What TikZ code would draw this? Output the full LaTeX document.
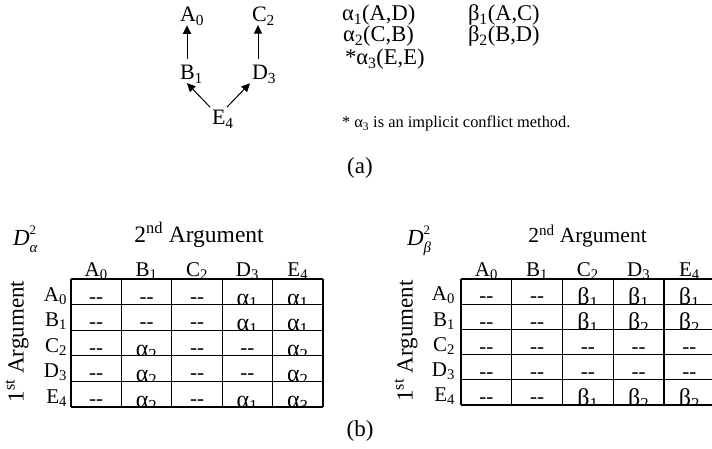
\documentclass[tikz,border=0pt]{standalone}
\usepackage{fontspec}
\setmainfont{Liberation Serif}
\usetikzlibrary{arrows.meta}

\newcommand{\dashpair}{-\kern0pt-}
\newcommand{\Dmat}[1]{\textit{D}\makebox[0pt][l]{\raisebox{10pt}{\fontsize{13}{13}\selectfont 2}}\raisebox{-7pt}{\fontsize{15}{15}\selectfont\textit{#1}}}

\begin{document}
\begin{tikzpicture}[x=1pt,y=-1pt,
  lbl/.style={inner sep=0pt, outer sep=0pt, anchor=base west, font=\fontsize{22}{24}\selectfont},
  meth/.style={lbl, font=\fontsize{22.5}{24}\selectfont},
  cen/.style={inner sep=0pt, outer sep=0pt, anchor=base, font=\fontsize{21}{24}\selectfont},
  rowlbl/.style={inner sep=0pt, outer sep=0pt, anchor=base east, font=\fontsize{21}{24}\selectfont},
  greek/.style={cen, font=\fontsize{24}{24}\selectfont},
  arr/.style={-{Triangle[width=8pt,length=8.5pt]}, line width=1pt},
  gridline/.style={line width=1.1pt}]
\useasboundingbox (0,0) rectangle (712,449);
\clip (0,0) rectangle (712,449);

% (a) precedence graph and method list
\node[lbl] (a0) at (180,22) {A\textsubscript{0}};
\node[lbl] (c2) at (252,22) {C\textsubscript{2}};
\node[lbl] (b1) at (180,80) {B\textsubscript{1}};
\node[lbl] (d3) at (252,80) {D\textsubscript{3}};
\node[lbl] (e4) at (212,125) {E\textsubscript{4}};
\draw[arr] ([shift={(7,-7)}]b1.north west) -- ([shift={(7,0)}]a0.south west);
\draw[arr] ([shift={(6,-7)}]d3.north west) -- ([shift={(6,0)}]c2.south west);
\draw[arr] ([shift={(-2,-3.5)}]e4.north west) -- ([shift={(7,0)}]b1.south west);
\draw[arr] ([shift={(15,-3.5)}]e4.north west) -- ([shift={(-2,0)}]d3.south west);

\node[meth] (m1) at (342,21) {α\textsubscript{1}(A,D)};
\node[meth] (n1) at (468,21) {β\textsubscript{1}(A,C)};
\node[meth] (m2) at (343,42) {α\textsubscript{2}(C,B)};
\node[meth] (n2) at (468,42) {β\textsubscript{2}(B,D)};
\node[meth] (m3) at (345,65) {*α\textsubscript{3}(E,E)};
\node[lbl, font=\fontsize{16.4}{18}\selectfont] (note) at (342,128) {* α\textsubscript{3} is an implicit conflict method.};
\node[cen, font=\fontsize{23}{24}\selectfont] (capa) at (360,174) {(a)};

% (b) left matrix
\node[lbl, font=\fontsize{23}{24}\selectfont] (da) at (13,245) {\Dmat{α}};
\node[cen, font=\fontsize{23.5}{26}\selectfont] (h2a) at (199,243) {2\textsuperscript{nd} Argument};
\node[rotate=90, inner sep=0pt, font=\fontsize{23}{24}\selectfont] (h1a) at (17,341.5) {1\textsuperscript{st} Argument};
\foreach \l [count=\i] in {A,B,C,D,E} {
  \pgfmathtruncatemacro\k{\i-1}
  \node[cen] (ca\i) at (71+50.4*\i-25.2,276) {\l\textsubscript{\k}};
  \node[rowlbl] (ra\i) at (67,279+25.6*\i-3.6) {\l\textsubscript{\k}};
}
\foreach \cells [count=\i] in {{0,0,0,1,1},{0,0,0,1,1},{0,2,0,0,2},{0,2,0,0,2},{0,2,0,1,3}} {
  \foreach \c [count=\j] in \cells {
    \ifnum\c=0\relax
      \node[cen] (la\i\j) at (71+50.4*\j-25.2,279+25.6*\i-1.6) {\dashpair};
    \else
      \begin{scope}
        \clip (71+50.4*\j-50.4,279+25.6*\i-25.6) rectangle ++(50.4,25.6);
        \node[greek] (la\i\j) at (71+50.4*\j-25.2,279+25.6*\i+0.5) {α\textsubscript{\c}};
      \end{scope}
    \fi
  }
}
\foreach \j in {0,...,5} \draw[gridline] (71+50.4*\j,279) -- ++(0,128);
\foreach \i in {0,...,5} \draw[gridline] (71,279+25.6*\i) -- ++(252,0);

% (b) right matrix
\node[lbl, font=\fontsize{23}{24}\selectfont] (db) at (407,245) {\Dmat{β}};
\node[cen, font=\fontsize{21.5}{24}\selectfont] (h2b) at (587.5,243) {2\textsuperscript{nd} Argument};
\node[rotate=90, inner sep=0pt, font=\fontsize{23}{24}\selectfont] (h1b) at (406,341) {1\textsuperscript{st} Argument};
\foreach \l [count=\i] in {A,B,C,D,E} {
  \pgfmathtruncatemacro\k{\i-1}
  \node[cen] (cb\i) at (461+50.75*\i-25.4,276) {\l\textsubscript{\k}};
  \node[rowlbl] (rb\i) at (455,279+25.2*\i-3.4) {\l\textsubscript{\k}};
}
\foreach \cells [count=\i] in {{0,0,1,1,1},{0,0,1,2,2},{0,0,0,0,0},{0,0,0,0,0},{0,0,1,2,2}} {
  \foreach \c [count=\j] in \cells {
    \ifnum\c=0\relax
      \node[cen] (lb\i\j) at (461+50.75*\j-25.4,279+25.2*\i-1.4) {\dashpair};
    \else
      \begin{scope}
        \clip (461+50.75*\j-50.75,279+25.2*\i-25.2) rectangle ++(50.75,25.2);
        \node[greek] (lb\i\j) at (461+50.75*\j-25.4,279+25.2*\i+0.5) {β\textsubscript{\c}};
      \end{scope}
    \fi
  }
}
\foreach \j in {0,...,5} \draw[gridline] (461+50.75*\j,279) -- ++(0,126);
\foreach \i in {0,...,5} \draw[gridline] (461,279+25.2*\i) -- ++(253.75,0);
\node[cen, font=\fontsize{23}{24}\selectfont] (capb) at (360,436) {(b)};
\end{tikzpicture}
\end{document}
